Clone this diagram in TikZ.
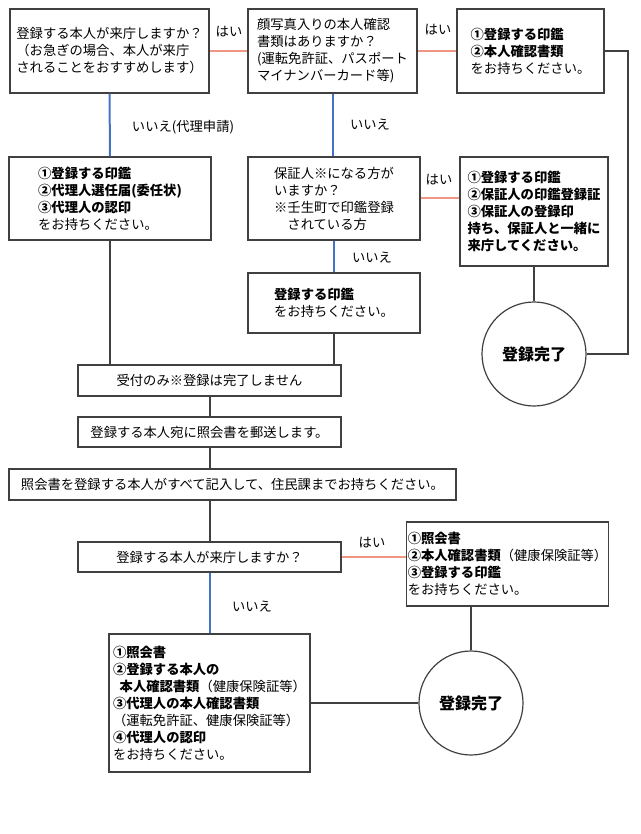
\documentclass[tikz,border=0pt]{standalone}
\usepackage{fontspec}
\setmainfont{Noto Sans CJK JP}
\usetikzlibrary{shapes,positioning,calc}

\definecolor{hai}{RGB}{240,150,130}
\definecolor{iie}{RGB}{68,114,196}
\definecolor{sen}{RGB}{64,64,64}

\tikzset{
  box/.style={draw=sen, line width=1.4pt, rectangle, align=left, inner xsep=1pt, inner ysep=2pt, font=\fontsize{13.3}{17}\selectfont},
  kanryo/.style={draw=sen, line width=1.2pt, circle, minimum size=104pt, font=\fontsize{16}{20}\selectfont\bfseries},
  lbl/.style={font=\fontsize{13.3}{17}\selectfont},
  haisen/.style={hai, line width=2pt},
  iiesen/.style={iie, line width=2pt},
  nagare/.style={sen, line width=2pt}
}

\begin{document}
\begin{tikzpicture}[x=1pt, y=-1pt]
\useasboundingbox (0,0) rectangle (640,834);

% 来庁の確認
\node[box, minimum width=199pt, minimum height=84pt] (raicho) at (109.5,51)
{登録する本人が来庁しますか？\\（お急ぎの場合、本人が来庁\\されることをおすすめします）};

% 顔写真入りの書類
\node[box, minimum width=169pt, minimum height=84pt] (kaoshashin) at (332.5,51)
{顔写真入りの本人確認\\書類はありますか？\\(運転免許証、パスポート\\マイナンバーカード等)};

% 本人が持参
\node[box, minimum width=147pt, minimum height=84pt] (honnin) at (530.5,51)
{\textbf{①登録する印鑑}\\\textbf{②本人確認書類}\\をお持ちください。};

% 代理申請
\node[box, minimum width=202pt, minimum height=83pt] (dairi) at (110,198.5)
{\textbf{①登録する印鑑}\\\textbf{②代理人選任届(委任状)}\\\textbf{③代理人の認印}\\をお持ちください。};

% 保証人の確認
\node[box, minimum width=172pt, minimum height=83pt] (hoshonin) at (334,198.5)
{保証人※になる方が\\いますか？\\※壬生町で印鑑登録\\\hspace*{1em}されている方};

% 保証人と来庁
\node[box, minimum width=148pt, minimum height=109pt] (issho) at (534,211.5)
{\textbf{①登録する印鑑}\\\textbf{②保証人の印鑑登録証}\\\textbf{③保証人の登録印}\\\textbf{持ち、保証人と一緒に}\\\textbf{来庁してください。}};

% 印鑑のみ
\node[box, minimum width=172pt, minimum height=60pt] (inkan) at (334,303)
{\textbf{登録する印鑑}\\をお持ちください。};

% 登録完了 (上)
\node[kanryo] (kanryoA) at (534,354) {登録完了};

% 受付のみ
\node[box, minimum width=263pt, minimum height=31pt] (uketsuke) at (209.5,380.5)
{受付のみ※登録は完了しません};

% 照会書の郵送
\node[box, minimum width=263pt, minimum height=30pt] (yuso) at (209.5,432)
{登録する本人宛に照会書を郵送します。};

% 照会書の記入
\node[box, minimum width=447pt, minimum height=31pt] (kinyu) at (232.5,484.5)
{照会書を登録する本人がすべて記入して、住民課までお持ちください。};

% 来庁の確認 (下)
\node[box, minimum width=263pt, minimum height=30pt] (raicho2) at (209.5,557)
{登録する本人が来庁しますか？};

% 本人が持参 (下)
\node[box, minimum width=201pt, minimum height=84pt] (honnin2) at (507.5,564)
{\textbf{①照会書}\\\textbf{②本人確認書類}（健康保険証等）\\\textbf{③登録する印鑑}\\をお持ちください。};

% 代理人が持参 (下)
\node[box, minimum width=201pt, minimum height=138pt] (dairi2) at (209.5,703)
{\textbf{①照会書}\\\textbf{②登録する本人の}\\\hspace*{0.5em}\textbf{本人確認書類}（健康保険証等）\\\textbf{③代理人の本人確認書類}\\（運転免許証、健康保険証等）\\\textbf{④代理人の認印}\\をお持ちください。};

% 登録完了 (下)
\node[kanryo] (kanryoB) at (471,703) {登録完了};

% ラベル
\node[lbl] (hai1) at (229,32) {はい};
\node[lbl] (hai2) at (438,30) {はい};
\node[lbl] (hai3) at (439,180) {はい};
\node[lbl] (hai4) at (372,543) {はい};
\node[lbl] (iie1) at (183,127) {いいえ(代理申請)};
\node[lbl] (iie2) at (370,125) {いいえ};
\node[lbl] (iie3) at (372,258) {いいえ};
\node[lbl] (iie4) at (252,607) {いいえ};

% 連接線
\draw[haisen] (raicho) -- (kaoshashin);
\draw[haisen] (kaoshashin) -- (honnin);
\draw[haisen] (hoshonin.east) -- (hoshonin.east -| issho.west);
\draw[haisen] (raicho2.east) -- (raicho2.east -| honnin2.west);
\draw[iiesen] (raicho) -- (dairi);
\draw[iiesen] (kaoshashin.south) -- (kaoshashin.south |- hoshonin.north);
\draw[iiesen] (hoshonin) -- (inkan);
\draw[iiesen] (raicho2) -- (raicho2.south |- dairi2.north);
\draw[nagare] (honnin.east) -- ++(23,0) |- (kanryoA.east);
\draw[nagare] (issho) -- (kanryoA);
\draw[nagare] (dairi.south) -- (dairi.south |- uketsuke.north);
\draw[nagare] (inkan.south) -- (inkan.south |- uketsuke.north);
\draw[nagare] (uketsuke) -- (yuso);
\draw[nagare] (yuso.south) -- (yuso.south |- kinyu.north);
\draw[nagare] (raicho2.north |- kinyu.south) -- (raicho2.north);
\draw[nagare] (kanryoB.north |- honnin2.south) -- (kanryoB.north);
\draw[nagare] (dairi2) -- (kanryoB);
\end{tikzpicture}
\end{document}
